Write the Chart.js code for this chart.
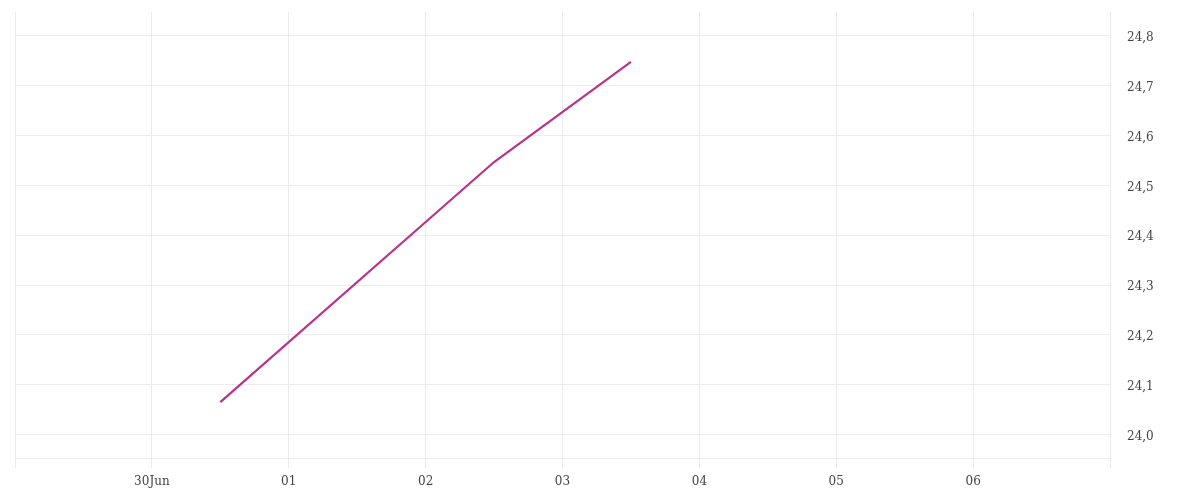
<!DOCTYPE html>
<html>
<head>
<meta charset="utf-8">
<script src="https://cdn.jsdelivr.net/npm/chart.js@4/dist/chart.umd.min.js"></script>
<style>
  html, body { margin: 0; padding: 0; background: #ffffff; }
  #wrap { width: 1200px; height: 500px; position: relative; }
</style>
</head>
<body>
<div id="wrap"><canvas id="c" width="1200" height="500"></canvas></div>
<script>
// Days relative to 30 Jun 00:00
const xDays = [0.5, 2.5, 3.5];
const seriesValues = [24.065, 24.547, 24.748];
// Tick labels for day positions -1 .. 7
const xTickValues = [-1, 0, 1, 2, 3, 4, 5, 6, 7];
const xTickLabels = ['', '30Jun', '01', '02', '03', '04', '05', '06', ''];
const yTickValues = [24.0, 24.1, 24.2, 24.3, 24.4, 24.5, 24.6, 24.7, 24.8];
const yTickLabels = ['24,0', '24,1', '24,2', '24,3', '24,4', '24,5', '24,6', '24,7', '24,8'];

const points = xDays.map((d, i) => ({ x: d, y: seriesValues[i] }));
const gridColor = '#ececec';
const textColor = '#444444';
const font = { family: '"DejaVu Serif", serif', size: 12 };

new Chart(document.getElementById('c'), {
  type: 'line',
  data: {
    datasets: [{
      data: points,
      borderColor: '#b8338c',
      borderWidth: 2.2,
      pointRadius: 0,
      tension: 0,
      fill: false
    }]
  },
  options: {
    responsive: false,
    animation: false,
    layout: { padding: { left: 15, top: 12, right: 0, bottom: 0 } },
    plugins: { legend: { display: false }, tooltip: { enabled: false } },
    scales: {
      x: {
        type: 'linear',
        min: -1,
        max: 7,
        afterBuildTicks: (axis) => { axis.ticks = xTickValues.map(v => ({ value: v })); },
        afterFit: (axis) => { axis.height = 42; axis.paddingLeft = 0; axis.paddingRight = 0; },
        grid: { color: gridColor, lineWidth: 1, drawTicks: true, tickLength: 10, tickColor: gridColor },
        border: { display: true, color: gridColor },
        ticks: {
          autoSkip: false,
          maxRotation: 0,
          padding: 7,
          color: textColor,
          font: font,
          callback: (v) => { const i = xTickValues.indexOf(Math.round(v)); return i >= 0 ? xTickLabels[i] : ''; }
        }
      },
      y: {
        type: 'linear',
        position: 'right',
        min: 23.953,
        max: 24.848,
        afterBuildTicks: (axis) => { axis.ticks = yTickValues.map(v => ({ value: v })); },
        afterFit: (axis) => { axis.width = 90; axis.paddingTop = 0; axis.paddingBottom = 0; },
        grid: { color: gridColor, lineWidth: 1, drawTicks: false },
        border: { display: false },
        ticks: {
          padding: 17,
          labelOffset: 2,
          color: textColor,
          font: font,
          callback: (v) => { const i = yTickValues.findIndex(t => Math.abs(t - v) < 1e-6); return i >= 0 ? yTickLabels[i] : ''; }
        }
      }
    }
  }
});
</script>
</body>
</html>
